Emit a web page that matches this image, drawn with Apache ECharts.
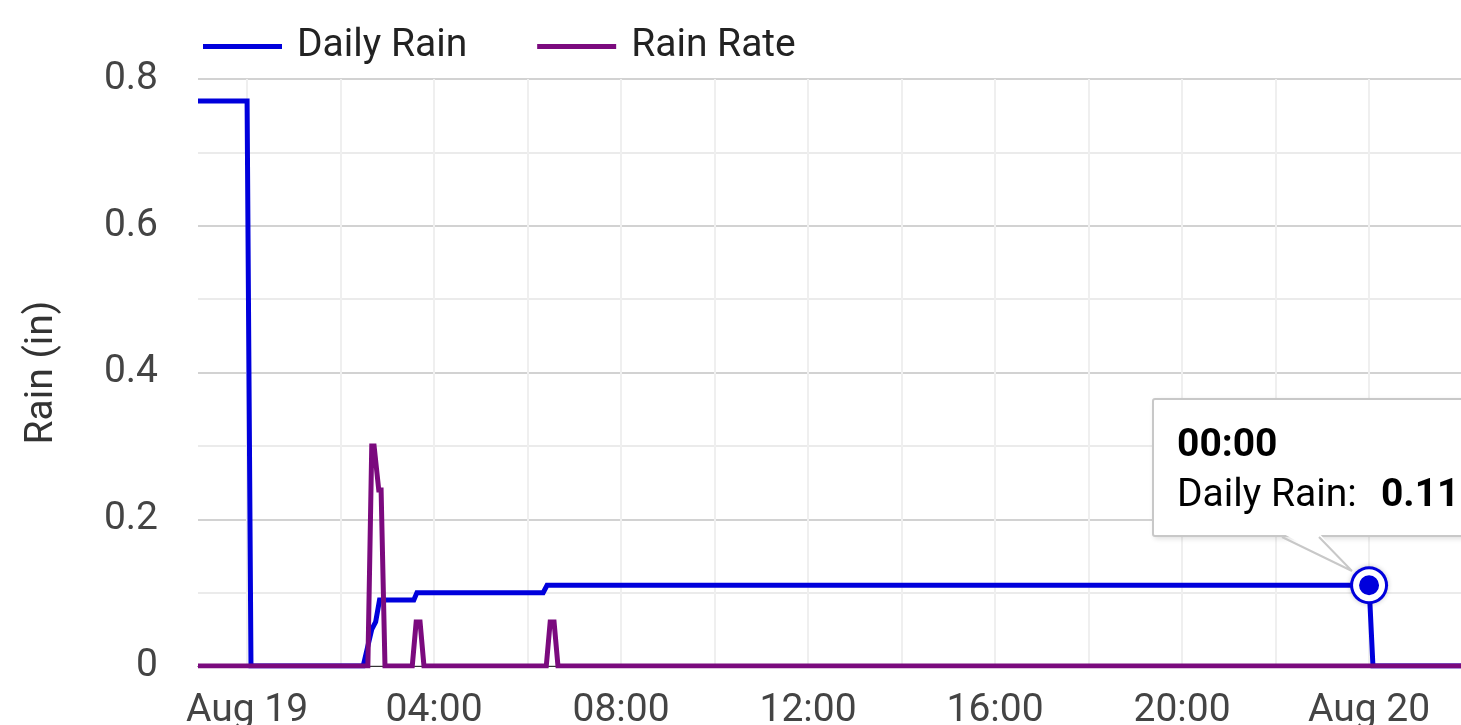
<!DOCTYPE html>
<html>
<head>
<meta charset="utf-8">
<script src="https://cdn.jsdelivr.net/npm/echarts@6/dist/echarts.min.js"></script>
<style>
  html, body { margin: 0; padding: 0; background: #fff; overflow: hidden; }
  #chart { width: 1461px; height: 725px; }
</style>
</head>
<body>
<div id="chart"></div>
<script>
// ---------------- data ----------------
const seriesNames = ['Daily Rain', 'Rain Rate'];
const seriesColors = ['#0000dc', '#7b0a7e'];

const dailyRainTimes = [
  '2024-08-18 22:57', '2024-08-19 00:00', '2024-08-19 00:05', '2024-08-19 02:29',
  '2024-08-19 02:40', '2024-08-19 02:45', '2024-08-19 02:50', '2024-08-19 03:34',
  '2024-08-19 03:38', '2024-08-19 06:20', '2024-08-19 06:25', '2024-08-20 00:00',
  '2024-08-20 00:05', '2024-08-20 01:58'
];
const dailyRainValues = [0.77, 0.77, 0, 0, 0.05, 0.06, 0.09, 0.09, 0.10, 0.10, 0.11, 0.11, 0, 0];

const rainRateTimes = [
  '2024-08-18 22:57', '2024-08-19 02:35', '2024-08-19 02:40', '2024-08-19 02:43',
  '2024-08-19 02:49', '2024-08-19 02:52', '2024-08-19 02:57', '2024-08-19 03:32',
  '2024-08-19 03:37', '2024-08-19 03:42', '2024-08-19 03:47', '2024-08-19 06:24',
  '2024-08-19 06:29', '2024-08-19 06:34', '2024-08-19 06:39', '2024-08-20 01:58'
];
const rainRateValues = [0, 0, 0.30, 0.30, 0.24, 0.24, 0, 0, 0.06, 0.06, 0, 0, 0.06, 0.06, 0, 0];

const xTickLabels = ['Aug 19', '04:00', '08:00', '12:00', '16:00', '20:00', 'Aug 20'];
const xStart = '2024-08-18 22:57';
const xEnd = '2024-08-20 01:58';
const xLabelOrigin = '2024-08-19 00:00';
const yTicks = [0, 0.2, 0.4, 0.6, 0.8];
const yAxisName = 'Rain (in)';
const tooltipTime = '2024-08-20 00:00';

// ---------------- helpers ----------------
const HOUR = 3600 * 1000;
function toMs(s) { return Date.parse(s.replace(' ', 'T') + ':00Z'); }
function pairs(times, values) { return times.map((t, i) => [toMs(t), values[i]]); }

const origin = toMs(xLabelOrigin);
const gridTimes = [];
for (let i = 0; i <= 12; i++) gridTimes.push(origin + i * 2 * HOUR);

const tipIdx = dailyRainTimes.indexOf(tooltipTime);
const tipPoint = [[toMs(dailyRainTimes[tipIdx]), dailyRainValues[tipIdx]]];

const FONT = 'Roboto';
const FS = 39;
const LW = 5;

const pointerSvg =
  '<svg style="position:absolute;left:0;top:0;overflow:visible;pointer-events:none" width="1" height="1">' +
  '<polygon points="128,133 165,133 198,171" fill="#fff"/>' +
  '<polyline points="128,137 198,171 165,137" fill="none" stroke="#c8c8c8" stroke-width="2"/>' +
  '</svg>';

const chart = echarts.init(document.getElementById('chart'), null, { renderer: 'canvas' });

const option = {
  animation: false,
  textStyle: { fontFamily: FONT },
  legend: {
    data: seriesNames,
    left: 198,
    top: 22,
    icon: 'rect',
    itemWidth: 79,
    itemHeight: 5,
    itemGap: 70,
    selectedMode: false,
    textStyle: { fontFamily: FONT, fontSize: FS, color: '#222', padding: [0, 0, 0, 10] }
  },
  grid: { left: 198, right: 0, top: 79, bottom: 59, containLabel: false, outerBoundsMode: 'none' },
  tooltip: {
    trigger: 'item',
    triggerOn: 'none',
    alwaysShowContent: true,
    transitionDuration: 0,
    confine: false,
    backgroundColor: '#ffffff',
    borderColor: '#c8c8c8',
    borderWidth: 2,
    padding: [18, 60, 17, 23],
    textStyle: { fontFamily: FONT, fontSize: FS, color: '#000' },
    extraCssText: 'box-shadow: 2px 2px 5px rgba(0,0,0,0.12); border-radius: 3px; overflow: visible;',
    position: function (point) { return [point[0] - 217, point[1] - 187]; },
    formatter: function (p) {
      const d = new Date(p.value[0]);
      const hh = String(d.getUTCHours()).padStart(2, '0');
      const mm = String(d.getUTCMinutes()).padStart(2, '0');
      return '<div style="white-space:nowrap;font-family:Roboto;font-size:' + FS + 'px;color:#000;">' +
        '<div style="font-weight:bold;line-height:50px;">' + hh + ':' + mm + '</div>' +
        '<div style="line-height:50px;">' + seriesNames[0] + ':&nbsp;&nbsp;<b style="padding-left:5px">' +
        p.value[1].toFixed(2) + '</b></div></div>' + pointerSvg;
    }
  },
  xAxis: {
    type: 'value',
    min: toMs(xStart),
    max: toMs(xEnd),
    minInterval: 4 * HOUR,
    maxInterval: 4 * HOUR,
    axisLine: { show: true, lineStyle: { color: '#333', width: 1 } },
    axisTick: { show: false },
    splitLine: { show: false },
    axisLabel: {
      fontFamily: FONT, fontSize: FS, color: '#444', margin: 26,
      showMinLabel: false, showMaxLabel: false,
      formatter: function (v) {
        const h = (v - origin) / HOUR;
        if (Math.abs(h - Math.round(h)) > 1e-6 || Math.round(h) % 4 !== 0) return '';
        const lab = xTickLabels[Math.round(h) / 4];
        return lab === undefined ? '' : lab;
      }
    }
  },
  yAxis: {
    type: 'value',
    min: yTicks[0],
    max: yTicks[yTicks.length - 1],
    interval: yTicks[1] - yTicks[0],
    name: yAxisName,
    nameLocation: 'middle',
    nameRotate: 90,
    nameGap: 136,
    nameTextStyle: { fontFamily: FONT, fontSize: FS, color: '#333' },
    axisLine: { show: false },
    axisTick: { show: false },
    axisLabel: { fontFamily: FONT, fontSize: FS, color: '#444', margin: 40 },
    splitLine: { show: true, lineStyle: { color: '#d2d2d2', width: 2 } },
    minorTick: { show: false, splitNumber: 2 },
    minorSplitLine: { show: true, lineStyle: { color: '#ebebeb', width: 2 } }
  },
  series: [
    {
      name: seriesNames[0],
      type: 'line',
      data: pairs(dailyRainTimes, dailyRainValues),
      showSymbol: false,
      symbol: 'none',
      silent: true,
      color: seriesColors[0],
      lineStyle: { color: seriesColors[0], width: LW, join: 'miter' },
      emphasis: { disabled: true },
      z: 3,
      markLine: {
        silent: true,
        symbol: 'none',
        z: 1,
        label: { show: false },
        lineStyle: { color: '#efefef', width: 2, type: 'solid' },
        emphasis: { disabled: true },
        data: gridTimes.map(t => ({ xAxis: t }))
      }
    },
    {
      name: seriesNames[1],
      type: 'line',
      data: pairs(rainRateTimes, rainRateValues),
      showSymbol: false,
      symbol: 'none',
      silent: true,
      color: seriesColors[1],
      lineStyle: { color: seriesColors[1], width: LW, join: 'miter' },
      emphasis: { disabled: true },
      z: 4
    },
    {
      name: 'halo',
      type: 'scatter',
      data: tipPoint,
      symbolSize: 38,
      silent: true,
      itemStyle: { color: seriesColors[0], opacity: 1, shadowBlur: 5, shadowColor: 'rgba(0,0,0,0.22)' },
      emphasis: { disabled: true },
      z: 5
    },
    {
      name: 'marker',
      type: 'scatter',
      data: tipPoint,
      symbolSize: 26,
      itemStyle: { color: seriesColors[0], opacity: 1, borderColor: '#ffffff', borderWidth: 6 },
      emphasis: { disabled: true },
      z: 6
    }
  ]
};

chart.setOption(option);
function showTip() {
  chart.dispatchAction({ type: 'showTip', seriesIndex: 3, dataIndex: 0 });
}
showTip();
setTimeout(showTip, 50);
</script>
</body>
</html>
